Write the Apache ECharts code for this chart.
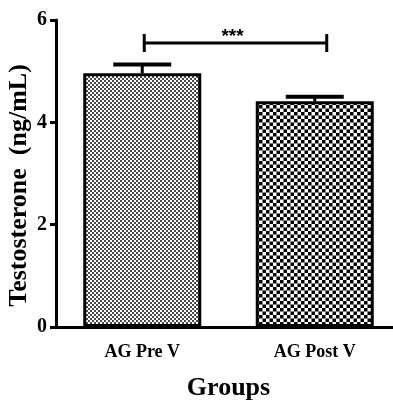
<!DOCTYPE html>
<html>
<head>
<meta charset="utf-8">
<script src="https://cdn.jsdelivr.net/npm/echarts@6/dist/echarts.min.js"></script>
<style>
  html, body { margin: 0; padding: 0; background: #fff; }
  #chart { width: 393px; height: 401px; }
</style>
</head>
<body>
<div id="chart"></div>
<script>
// data
const groups = ['AG Pre V', 'AG Post V'];
const means = [4.96, 4.41];
const sems = [0.17, 0.09];
const yTicks = [0, 2, 4, 6];
const sigLevel = 5.55; // height of the significance bracket
const sigLabel = '***';

const serif = '"Liberation Serif", "Times New Roman", serif';

// fill patterns for the bars
function makePattern(size, cell, color) {
  const c = document.createElement('canvas');
  c.width = size;
  c.height = size;
  const ctx = c.getContext('2d');
  ctx.fillStyle = '#fff';
  ctx.fillRect(0, 0, size, size);
  ctx.fillStyle = color;
  ctx.fillRect(0, 0, cell, cell);
  ctx.fillRect(cell, cell, cell, cell);
  return c;
}
const finePattern = makePattern(4, 2, '#4a4a4a');
const checkPattern = makePattern(7, 3.5, '#000');

const chart = echarts.init(document.getElementById('chart'));

const option = {
  animation: false,
  grid: { left: 56, top: 20, width: 345, height: 307, outerBoundsMode: 'none', containLabel: false },
  xAxis: {
    type: 'category',
    data: groups,
    name: 'Groups',
    nameLocation: 'middle',
    nameGap: 48,
    nameMoveOverlap: false,
    nameTextStyle: { fontFamily: serif, fontWeight: 'bold', fontSize: 26, color: '#000' },
    axisLine: { lineStyle: { color: '#000', width: 3 } },
    axisTick: { alignWithLabel: true, length: 8, lineStyle: { color: '#000', width: 3 } },
    axisLabel: { margin: 16, fontFamily: serif, fontWeight: 'bold', fontSize: 18, color: '#000' }
  },
  yAxis: {
    type: 'value',
    min: yTicks[0],
    max: yTicks[yTicks.length - 1],
    interval: yTicks[1] - yTicks[0],
    name: 'Testosterone  (ng/mL)',
    nameLocation: 'middle',
    nameGap: 24,
    nameMoveOverlap: false,
    nameTextStyle: {
      fontFamily: serif, fontWeight: 'bold', fontSize: 26, color: '#000',
      padding: [0, 24, 0, 0]
    },
    splitLine: { show: false },
    axisLine: { show: true, lineStyle: { color: '#000', width: 3 } },
    axisTick: { show: true, length: 6, lineStyle: { color: '#000', width: 3 } },
    axisLabel: { margin: 9, fontFamily: serif, fontWeight: 'bold', fontSize: 20, color: '#000' }
  },
  series: [
    {
      type: 'bar',
      barWidth: 118,
      data: means.map((v, i) => ({
        value: v,
        itemStyle: {
          color: { image: i === 0 ? finePattern : checkPattern, repeat: 'repeat' },
          borderColor: '#000',
          borderWidth: 3
        }
      })),
      z: 2
    },
    {
      // error bars (mean + SEM, upper side only)
      type: 'custom',
      data: means.map((v, i) => [i, v, sems[i]]),
      renderItem: function (params, api) {
        const base = api.coord([api.value(0), api.value(1)]);
        const top = api.coord([api.value(0), api.value(1) + api.value(2)]);
        const half = 29;
        return {
          type: 'group',
          children: [
            { type: 'line', shape: { x1: base[0], y1: base[1], x2: top[0], y2: top[1] },
              style: { stroke: '#000', lineWidth: 3 } },
            { type: 'line', shape: { x1: top[0] - half, y1: top[1], x2: top[0] + half, y2: top[1] },
              style: { stroke: '#000', lineWidth: 4 } }
          ]
        };
      },
      z: 3
    },
    {
      // significance bracket
      type: 'custom',
      data: [[0, 1, sigLevel]],
      renderItem: function (params, api) {
        const a = api.coord([api.value(0), api.value(2)]);
        const b = api.coord([api.value(1), api.value(2)]);
        const x1 = a[0] + 2, x2 = b[0] + 12, y = a[1];
        return {
          type: 'group',
          children: [
            { type: 'line', shape: { x1: x1, y1: y, x2: x2, y2: y }, style: { stroke: '#000', lineWidth: 3 } },
            { type: 'line', shape: { x1: x1, y1: y - 9, x2: x1, y2: y + 9 }, style: { stroke: '#000', lineWidth: 3 } },
            { type: 'line', shape: { x1: x2, y1: y - 9, x2: x2, y2: y + 9 }, style: { stroke: '#000', lineWidth: 3 } },
            { type: 'text', x: (x1 + x2) / 2 - 3, y: y + 3,
              style: { text: sigLabel, fill: '#000', font: 'bold 19px "Liberation Sans", Arial, sans-serif',
                       align: 'center', verticalAlign: 'bottom' } }
          ]
        };
      },
      z: 3
    }
  ]
};

chart.setOption(option);
</script>
</body>
</html>
